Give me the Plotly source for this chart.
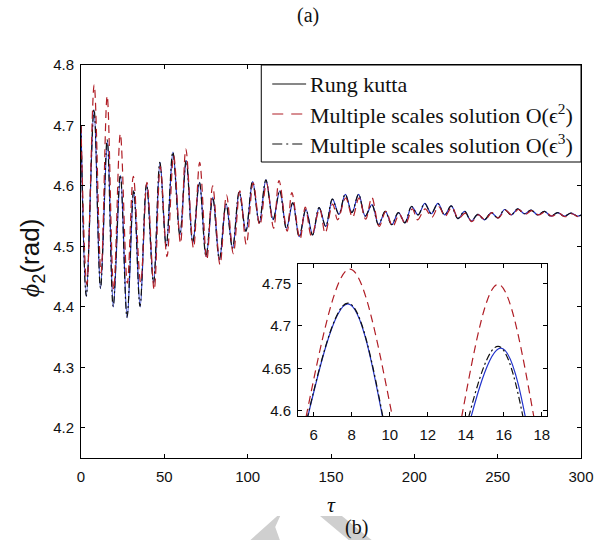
import plotly.graph_objects as go

# ---------------- data (extrema) ----------------
t_rk = [0, 3.2, 7.8, 11.7, 15.85, 19.4, 23.7, 27.7, 31.7, 35.5,
        39.4, 43.6, 47.4, 51.2, 55.2, 59.4, 63.2, 67.1, 71.1, 75.1,
        79.1, 83.1, 87.1, 91.0, 95.0, 99.0, 103.0, 107.0, 111.0, 115.3,
        119.3, 123.3, 127.1, 131.0, 135.0, 139.0, 142.9, 146.9, 150.9, 154.8,
        158.6, 162.6, 166.6, 170.6, 174.6, 178.6, 182.6, 186.5, 190.5, 194.4,
        198.4, 202.3, 206.3, 210.2, 214.2, 218.2, 222.2, 226.2, 230.2, 234.2,
        238.2, 242.2, 246.2, 250.2, 254.2, 258.2, 262.1, 266.1, 270.1, 274.1,
        278.1, 282.0, 286.0, 290.0, 294.0, 298.0, 300.0]
v_rk = [4.700, 4.417, 4.726, 4.430, 4.674, 4.400, 4.617, 4.382, 4.592, 4.400,
        4.603, 4.439, 4.639, 4.500, 4.656, 4.519, 4.642, 4.506, 4.606, 4.483,
        4.581, 4.478, 4.570, 4.497, 4.590, 4.525, 4.607, 4.539, 4.610, 4.544,
        4.592, 4.530, 4.572, 4.516, 4.561, 4.519, 4.564, 4.533, 4.578, 4.553,
        4.586, 4.556, 4.586, 4.550, 4.569, 4.536, 4.558, 4.536, 4.556, 4.539,
        4.566, 4.552, 4.571, 4.554, 4.571, 4.552, 4.567, 4.546, 4.558, 4.542,
        4.553, 4.544, 4.556, 4.547, 4.561, 4.552, 4.562, 4.554, 4.560, 4.552,
        4.558, 4.550, 4.556, 4.550, 4.555, 4.550, 4.552]

t_ms2 = [0, 3.5, 7.9, 12.0, 15.7, 19.6, 23.6, 27.8, 31.4, 35.8,
         39.6, 43.9, 47.6, 51.6, 55.6, 59.7, 62.9, 67.5, 71.2, 75.5,
         79.0, 83.4, 87.3, 91.4, 95.3, 99.2, 103.3, 107.3, 111.3, 115.6,
         118.8, 123.7, 126.5, 131.4, 134.6, 138.3, 143.2, 146.5, 151.0, 154.0,
         158.8, 162.9, 166.8, 170.8, 174.5, 178.9, 182.9, 187.0, 191.0, 194.7,
         198.8, 202.0, 206.5, 210.5, 214.5, 218.5, 222.5, 226.5, 230.5, 234.5,
         238.5, 242.5, 246.5, 250.5, 254.5, 258.5, 262.5, 266.5, 270.5, 274.5,
         278.5, 282.5, 286.5, 290.5, 294.5, 298.5, 300.0]
v_ms2 = [4.700, 4.437, 4.767, 4.456, 4.749, 4.428, 4.686, 4.439, 4.616, 4.440,
         4.606, 4.428, 4.632, 4.483, 4.650, 4.505, 4.661, 4.497, 4.639, 4.478,
         4.600, 4.470, 4.585, 4.488, 4.592, 4.503, 4.605, 4.535, 4.604, 4.530,
         4.609, 4.525, 4.589, 4.512, 4.565, 4.517, 4.562, 4.522, 4.570, 4.544,
         4.580, 4.548, 4.580, 4.545, 4.581, 4.533, 4.558, 4.533, 4.553, 4.537,
         4.562, 4.544, 4.562, 4.548, 4.566, 4.550, 4.565, 4.546, 4.555, 4.541,
         4.552, 4.544, 4.556, 4.547, 4.560, 4.552, 4.561, 4.553, 4.559, 4.552,
         4.557, 4.550, 4.555, 4.549, 4.554, 4.549, 4.551]

t_ms3 = [0, 3.2, 7.8, 11.7, 15.7, 19.3, 23.6, 27.6, 31.6, 35.4,
         39.3, 43.5, 47.3, 51.1, 55.1, 59.3, 63.1, 67.0, 71.0, 75.0,
         79.0, 83.0, 87.0, 90.9, 94.9, 98.9, 102.9, 106.9, 110.9, 115.2,
         119.2, 123.2, 127.0, 130.9, 134.9, 138.9, 142.8, 146.8, 150.8, 154.7,
         158.5, 162.5, 166.5, 170.5, 174.5, 178.5, 182.5, 186.4, 190.4, 194.3,
         198.3, 202.2, 206.2, 210.1, 214.1, 218.1, 222.1, 226.1, 230.1, 234.1,
         238.1, 242.1, 246.1, 250.1, 254.1, 258.1, 262.0, 266.0, 270.0, 274.0,
         278.0, 281.9, 285.9, 289.9, 293.9, 297.9, 300.0]
v_ms3 = [4.700, 4.418, 4.727, 4.431, 4.676, 4.401, 4.618, 4.383, 4.593, 4.401,
         4.603, 4.440, 4.639, 4.501, 4.656, 4.519, 4.642, 4.507, 4.606, 4.484,
         4.581, 4.479, 4.570, 4.497, 4.590, 4.525, 4.607, 4.539, 4.610, 4.544,
         4.592, 4.530, 4.572, 4.516, 4.561, 4.519, 4.564, 4.533, 4.578, 4.553,
         4.586, 4.556, 4.586, 4.550, 4.569, 4.536, 4.558, 4.536, 4.556, 4.539,
         4.566, 4.552, 4.571, 4.554, 4.571, 4.552, 4.567, 4.546, 4.558, 4.542,
         4.553, 4.544, 4.556, 4.547, 4.561, 4.552, 4.562, 4.554, 4.560, 4.552,
         4.558, 4.550, 4.556, 4.550, 4.555, 4.550, 4.552]

legend_names = ["Rung kutta",
                "Multiple scales solution O(\u03f5<sup>2</sup>)",
                "Multiple scales solution O(\u03f5<sup>3</sup>)"]

x_ticks = [0, 50, 100, 150, 200, 250, 300]
y_ticks = [4.2, 4.3, 4.4, 4.5, 4.6, 4.7, 4.8]
y_labels = ["4.2", "4.3", "4.4", "4.5", "4.6", "4.7", "4.8"]
inset_x_ticks = [6, 8, 10, 12, 14, 16, 18]
inset_y_ticks = [4.6, 4.65, 4.7, 4.75]
inset_y_labels = ["4.6", "4.65", "4.7", "4.75"]

# ---------------- styles ----------------
BLUE = "#2233cc"
RED = "#b01e26"
BLACK = "#111111"
SANS = "Liberation Sans, Arial, sans-serif"
SERIF = "Liberation Serif, Times New Roman, serif"
DASH_RED = "8px,5px"
DASH_DD = "7px,3px,2px,3px"

W, H = 606, 540
L, R, T, B = 81, 583, 65, 458


def px(x):
    return (x - L) / (R - L)


def py(y):
    return (B - y) / (B - T)


fig = go.Figure()

for xa, ya in (("x", "y"), ("x2", "y2")):
    fig.add_trace(go.Scatter(x=t_rk, y=v_rk, mode="lines", xaxis=xa, yaxis=ya,
                             name=legend_names[0],
                             line=dict(color=BLUE, width=1.2, shape="spline", smoothing=1),
                             showlegend=False, hoverinfo="skip"))
    fig.add_trace(go.Scatter(x=t_ms3, y=v_ms3, mode="lines", xaxis=xa, yaxis=ya,
                             name=legend_names[2],
                             line=dict(color=BLACK, width=1.2, dash=DASH_DD,
                                       shape="spline", smoothing=1),
                             showlegend=False, hoverinfo="skip"))
    fig.add_trace(go.Scatter(x=t_ms2, y=v_ms2, mode="lines", xaxis=xa, yaxis=ya,
                             name=legend_names[1],
                             line=dict(color=RED, width=1.2, dash=DASH_RED,
                                       shape="spline", smoothing=1),
                             showlegend=False, hoverinfo="skip"))

axis_common = dict(showline=True, linecolor="black", linewidth=1, mirror="ticks",
                   ticks="inside", ticklen=4, tickcolor="black", showgrid=False,
                   zeroline=False, tickfont=dict(family=SANS, size=15, color="#111"))

fig.update_layout(
    width=W, height=H,
    margin=dict(l=L, r=W - R, t=T, b=H - B),
    paper_bgcolor="white", plot_bgcolor="white",
    showlegend=False,
    xaxis=dict(range=[0, 300], tickvals=x_ticks, domain=[0, 1],
               ticklabelstandoff=5, **axis_common),
    yaxis=dict(range=[4.15, 4.8], tickvals=y_ticks, ticktext=y_labels, domain=[0, 1],
               ticklabelstandoff=3, **axis_common),
    xaxis2=dict(range=[5.18, 18.28], tickvals=inset_x_ticks, anchor="y2",
                domain=[px(299), px(549)], ticklabelstandoff=5, **axis_common),
    yaxis2=dict(range=[4.594, 4.773], tickvals=inset_y_ticks, ticktext=inset_y_labels,
                anchor="x2", domain=[py(416), py(264)], ticklabelstandoff=3,
                **axis_common),
)

# ---- legend drawn by hand (box, line samples, texts) ----
LEG_L, LEG_R, LEG_T, LEG_B = 262, 583, 65, 162
leg_rows = [84, 114, 144]
fig.add_shape(type="rect", xref="paper", yref="paper",
              x0=px(LEG_L), x1=px(LEG_R), y0=py(LEG_B), y1=py(LEG_T),
              line=dict(color="black", width=1), fillcolor="white", layer="above")
leg_styles = [dict(color=BLACK, width=1.2),
              dict(color=RED, width=1.2, dash="11px,8px"),
              dict(color=BLACK, width=1.2, dash="10px,4px,2px,4px")]
for name, st, yy in zip(legend_names, leg_styles, leg_rows):
    fig.add_shape(type="line", xref="paper", yref="paper",
                  x0=px(273), x1=px(307), y0=py(yy), y1=py(yy), line=st, layer="above")
    fig.add_annotation(xref="paper", yref="paper", showarrow=False,
                       x=px(309), y=py(yy), xanchor="left", yanchor="middle",
                       text=name, font=dict(family=SERIF, size=22, color="#111"))

ann = [
    dict(text="(a)", x=px(309), y=py(15), font=dict(family=SERIF, size=20, color="#111")),
    dict(text="<i>\u03c4</i>", x=px(332), y=py(504), font=dict(family=SERIF, size=22, color="#111")),
    dict(text="(b)", x=px(358), y=py(527), font=dict(family=SERIF, size=20, color="#111")),
    dict(text="<i><span style='font-family:Liberation Serif'>\u03d5</span></i><sub>2</sub>(rad)",
         x=px(31), y=py(258), textangle=-90, font=dict(family=SANS, size=26, color="#111")),
]
for a in ann:
    fig.add_annotation(xref="paper", yref="paper", showarrow=False,
                       xanchor="center", yanchor="middle", **a)


# light grey watermark shapes at the bottom
def poly(points):
    return "M " + " L ".join(f"{px(x):.4f},{py(y):.4f}" for x, y in points) + " Z"


fig.add_shape(type="path", xref="paper", yref="paper", layer="below",
              path=poly([(250, 541), (278, 516), (281, 516), (276, 527), (281, 541)]),
              fillcolor="#cfcfcf", line=dict(width=0))
fig.add_shape(type="path", xref="paper", yref="paper", layer="below",
              path=poly([(321, 516), (343, 516), (374, 541), (351, 541)]),
              fillcolor="#cfcfcf", line=dict(width=0))

fig.write_html("out.html")
